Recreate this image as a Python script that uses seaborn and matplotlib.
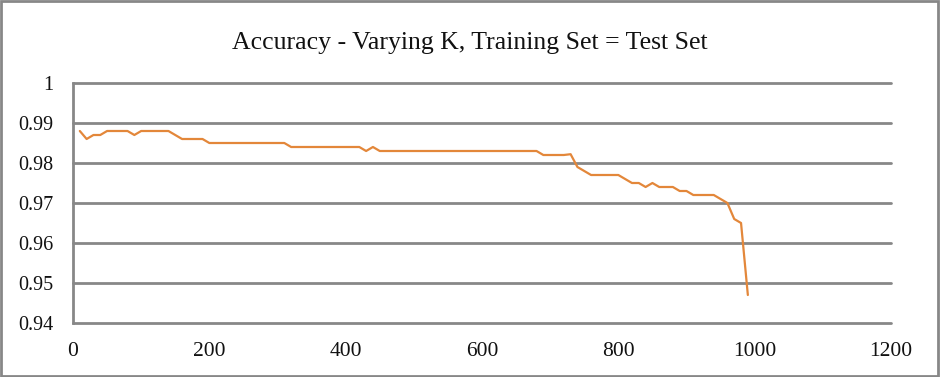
import matplotlib
matplotlib.use("Agg")
import matplotlib.pyplot as plt
import seaborn as sns
import pandas as pd
from matplotlib.patches import Rectangle

title = "Accuracy - Varying K, Training Set = Test Set"
k_values = [10, 20, 30, 40, 50, 60, 70, 80, 90, 100,
            110, 120, 130, 140, 150, 160, 170, 180, 190, 200,
            210, 220, 230, 240, 250, 260, 270, 280, 290, 300,
            310, 320, 330, 340, 350, 360, 370, 380, 390, 400,
            410, 420, 430, 440, 450, 460, 470, 480, 490, 500,
            510, 520, 530, 540, 550, 560, 570, 580, 590, 600,
            610, 620, 630, 640, 650, 660, 670, 680, 690, 700,
            710, 720, 730, 740, 750, 760, 770, 780, 790, 800,
            810, 820, 830, 840, 850, 860, 870, 880, 890, 900,
            910, 920, 930, 940, 950, 960, 970, 980, 990]
accuracy = [0.988, 0.986, 0.987, 0.987, 0.988, 0.988, 0.988, 0.988, 0.987, 0.988,
            0.988, 0.988, 0.988, 0.988, 0.987, 0.986, 0.986, 0.986, 0.986, 0.985,
            0.985, 0.985, 0.985, 0.985, 0.985, 0.985, 0.985, 0.985, 0.985, 0.985,
            0.985, 0.984, 0.984, 0.984, 0.984, 0.984, 0.984, 0.984, 0.984, 0.984,
            0.984, 0.984, 0.983, 0.984, 0.983, 0.983, 0.983, 0.983, 0.983, 0.983,
            0.983, 0.983, 0.983, 0.983, 0.983, 0.983, 0.983, 0.983, 0.983, 0.983,
            0.983, 0.983, 0.983, 0.983, 0.983, 0.983, 0.983, 0.983, 0.982, 0.982,
            0.982, 0.982, 0.9822, 0.979, 0.978, 0.977, 0.977, 0.977, 0.977, 0.977,
            0.976, 0.975, 0.975, 0.974, 0.975, 0.974, 0.974, 0.974, 0.973, 0.973,
            0.972, 0.972, 0.972, 0.972, 0.971, 0.970, 0.966, 0.965, 0.947]
x_ticks = [0, 200, 400, 600, 800, 1000, 1200]
y_ticks = [0.94, 0.95, 0.96, 0.97, 0.98, 0.99, 1.0]
y_tick_labels = ["0.94", "0.95", "0.96", "0.97", "0.98", "0.99", "1"]

sns.set_style("white")
plt.rcParams["font.family"] = ["Liberation Serif", "DejaVu Serif"]

df = pd.DataFrame({"k": k_values, "acc": accuracy})

fig = plt.figure(figsize=(9.4, 3.77), dpi=100)
ax = fig.add_axes([73/940, 1-323/377, (891-73)/940, (323-83)/377])

grid_c = "#878787"
ax.set_xlim(0, 1200)
ax.set_ylim(0.94, 1.0)
for yv in y_ticks:
    ax.axhline(yv, color=grid_c, lw=2, zorder=1, clip_on=False)

sns.lineplot(data=df, x="k", y="acc", ax=ax, color="#E3873A", lw=1.6, zorder=3)

ax.set_xticks(x_ticks)
ax.set_xticklabels([str(v) for v in x_ticks])
ax.set_yticks(y_ticks)
ax.set_yticklabels(y_tick_labels)
ax.tick_params(axis="both", length=0, colors="#111111")
ax.tick_params(axis="x", pad=14, labelsize=15.5)
ax.tick_params(axis="y", pad=14, labelsize=14.5)
ax.set_xlabel("")
ax.set_ylabel("")
for s in ["top", "right", "bottom"]:
    ax.spines[s].set_visible(False)
ax.spines["left"].set_color(grid_c)
ax.spines["left"].set_linewidth(2)

fig.text(0.5, 1-49.5/377, title, ha="center", va="baseline", fontsize=18.5, color="#111111")
fig.patches.append(Rectangle((0.001, 0.002), 0.997, 0.995, transform=fig.transFigure,
                             fill=False, edgecolor=grid_c, lw=2))

fig.savefig("out.png", dpi=100)
